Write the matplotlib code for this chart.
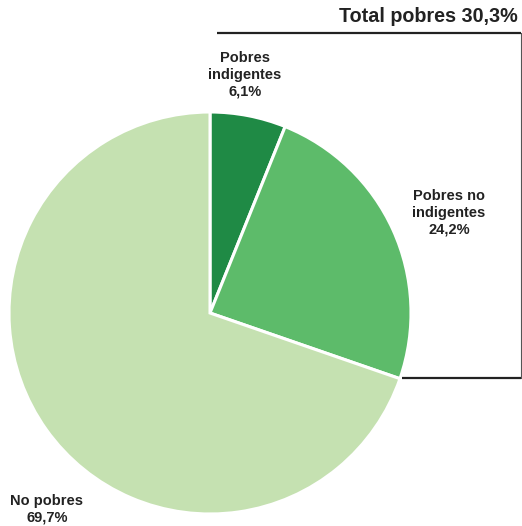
import matplotlib.pyplot as plt

plt.rcParams['font.family'] = ['Liberation Sans', 'DejaVu Sans']

# data
categorias = ['Pobres\nindigentes', 'Pobres no\nindigentes', 'No pobres']
valores = [6.1, 24.2, 69.7]
colores = ['#1f8a45', '#5dbb6a', '#c5e1b1']
total_pobres = 30.3

W, H = 522, 526
fig = plt.figure(figsize=(W / 100, H / 100), dpi=100)
ax = fig.add_axes([0, 0, 1, 1])
ax.set_xlim(0, W)
ax.set_ylim(0, H)
ax.set_aspect('equal')
ax.axis('off')

# pie (pixel coords, y from bottom)
cx, cy, r = 210, H - 313, 201
ax.pie(valores, colors=colores, startangle=90, counterclock=False,
       center=(cx, cy), radius=r,
       wedgeprops={'edgecolor': 'white', 'linewidth': 2.2})
ax.set_xlim(0, W)
ax.set_ylim(0, H)


def fmt(v):
    return f'{v:.1f}'.replace('.', ',') + '%'


txt = {'fontsize': 10.5, 'fontweight': 'bold', 'color': '#222222',
       'ha': 'center', 'va': 'center', 'linespacing': 1.25}
pos = [(245, H - 75), (449, H - 213), (47, H - 509)]
for cat, v, (x, y) in zip(categorias, valores, pos):
    ax.text(x, y, cat + '\n' + fmt(v), **txt)

# bracket for total pobres
ax.plot([217, 521], [H - 33, H - 33], color='#222222', lw=1.6, solid_capstyle='butt')
ax.plot([520.5, 520.5], [H - 33, H - 378], color='#555555', lw=0.8)
ax.plot([402, 521], [H - 378, H - 378], color='#222222', lw=1.6, solid_capstyle='butt')
ax.text(518, H - 17, 'Total pobres ' + fmt(total_pobres), fontsize=14.2,
        fontweight='bold', color='#222222', ha='right', va='center')

fig.savefig('out.png', dpi=100)
